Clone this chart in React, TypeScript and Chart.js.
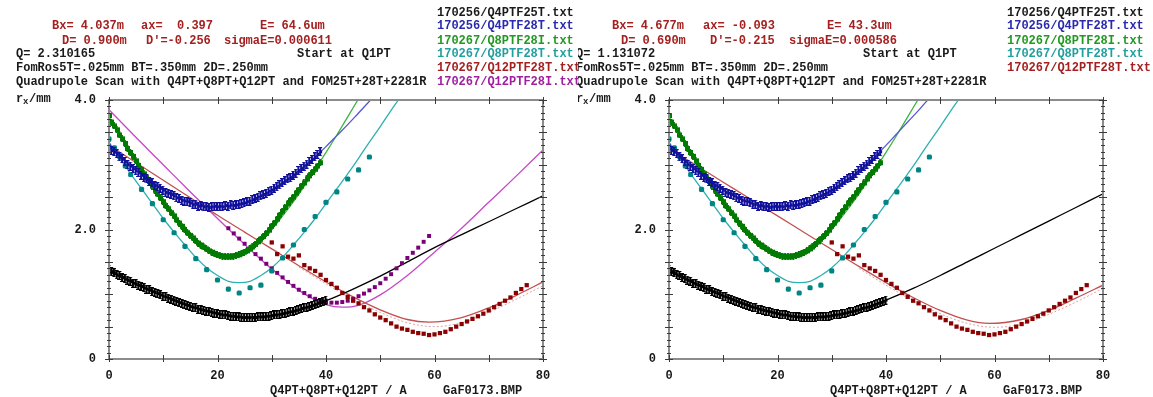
import React, { useEffect, useRef } from "react";
import { Chart, registerables } from "chart.js";

Chart.register(...registerables);

const FONT = "'Liberation Mono', 'DejaVu Sans Mono', monospace";

// ---------- axes ----------
const X_TICKS = [0, 10, 20, 30, 40, 50, 60, 70, 80];
const X_LABEL_STEP = 20;
const Y_LABEL_STEP = 2;

// ---------- scan setpoints (A) ----------
const X_HALF = [
  0, 0.5, 1, 1.5, 2, 2.5, 3, 3.5, 4, 4.5, 5, 5.5, 6, 6.5, 7, 7.5, 8, 8.5, 9, 9.5,
  10, 10.5, 11, 11.5, 12, 12.5, 13, 13.5, 14, 14.5, 15, 15.5, 16, 16.5, 17, 17.5, 18, 18.5, 19, 19.5,
  20, 20.5, 21, 21.5, 22, 22.5, 23, 23.5, 24, 24.5, 25, 25.5, 26, 26.5, 27, 27.5, 28, 28.5, 29, 29.5,
  30, 30.5, 31, 31.5, 32, 32.5, 33, 33.5, 34, 34.5, 35, 35.5, 36, 36.5, 37, 37.5, 38, 38.5, 39, 39.5, 40,
];

// 170256/Q4PTF25T.txt (black)
const BLACK_Y = [
  1.38, 1.35, 1.33, 1.30, 1.29, 1.26, 1.24, 1.22, 1.20, 1.17,
  1.16, 1.14, 1.12, 1.10, 1.08, 1.07, 1.04, 1.03, 1.01, 0.99,
  0.97, 0.96, 0.94, 0.92, 0.91, 0.89, 0.87, 0.86, 0.84, 0.83,
  0.81, 0.80, 0.79, 0.77, 0.76, 0.75, 0.74, 0.73, 0.72, 0.71,
  0.70, 0.69, 0.68, 0.68, 0.67, 0.66, 0.66, 0.65, 0.65, 0.64,
  0.64, 0.64, 0.64, 0.64, 0.64, 0.65, 0.65, 0.65, 0.66, 0.66,
  0.67, 0.68, 0.68, 0.69, 0.70, 0.71, 0.72, 0.73, 0.74, 0.75,
  0.76, 0.78, 0.79, 0.80, 0.81, 0.83, 0.84, 0.86, 0.87, 0.89,
  0.91,
];
// 170256/Q4PTF28T.txt (blue)
const BLUE_Y = [
  3.30, 3.22, 3.20, 3.17, 3.12, 3.09, 3.05, 3.00, 2.98, 2.94,
  2.91, 2.88, 2.84, 2.80, 2.78, 2.74, 2.72, 2.68, 2.66, 2.64,
  2.61, 2.57, 2.56, 2.54, 2.52, 2.49, 2.48, 2.45, 2.44, 2.43,
  2.41, 2.38, 2.39, 2.36, 2.37, 2.35, 2.36, 2.34, 2.35, 2.36,
  2.35, 2.36, 2.35, 2.37, 2.36, 2.38, 2.37, 2.38, 2.39, 2.40,
  2.41, 2.43, 2.44, 2.46, 2.48, 2.50, 2.52, 2.54, 2.56, 2.59,
  2.61, 2.64, 2.66, 2.69, 2.72, 2.75, 2.78, 2.80, 2.84, 2.87,
  2.91, 2.94, 2.98, 3.01, 3.05, 3.08, 3.12, 3.16, 3.20,
];
// 170267/Q8PTF28I.txt (green)
const GREEN_Y = [
  3.76, 3.66, 3.60, 3.54, 3.46, 3.40, 3.33, 3.25, 3.19, 3.13,
  3.06, 2.99, 2.93, 2.86, 2.80, 2.74, 2.67, 2.61, 2.55, 2.49,
  2.43, 2.37, 2.32, 2.26, 2.21, 2.15, 2.10, 2.05, 2.00, 1.95,
  1.91, 1.87, 1.83, 1.79, 1.76, 1.73, 1.70, 1.67, 1.65, 1.63,
  1.61, 1.60, 1.59, 1.58, 1.58, 1.58, 1.59, 1.60, 1.61, 1.63,
  1.65, 1.67, 1.70, 1.73, 1.77, 1.81, 1.85, 1.89, 1.94, 1.99,
  2.05, 2.10, 2.16, 2.22, 2.28, 2.34, 2.40, 2.45, 2.50, 2.56,
  2.61, 2.67, 2.72, 2.78, 2.83, 2.88, 2.93, 2.98, 3.03,
];
// 170267/Q8PTF28T.txt (cyan)
const CYAN_X = [0, 1, 2, 3, 4, 6, 8, 10, 12, 14, 16, 18, 20, 22, 24, 26, 28, 30, 32, 34, 36, 38, 40, 42, 44, 46, 48];
const CYAN_Y = [3.40, 3.26, 3.12, 2.98, 2.85, 2.62, 2.40, 2.15, 1.95, 1.74, 1.55, 1.38, 1.22, 1.08, 1.02, 1.10, 1.14, 1.36, 1.56, 1.76, 2.00, 2.20, 2.42, 2.58, 2.78, 2.92, 3.12];
// 170267/Q12PTF28T.txt (dark red)
const RED_X = [30, 31, 32, 33, 34, 35, 36, 37, 38, 39, 40, 41, 42, 43, 44, 45, 46, 47, 48, 49, 50, 51, 52, 53, 54, 55, 56, 57, 58, 59, 60, 61, 62, 63, 64, 65, 66, 67, 68, 69, 70, 71, 72, 73, 74, 75, 76, 77];
const RED_Y = [1.80, 1.62, 1.74, 1.58, 1.55, 1.60, 1.45, 1.40, 1.36, 1.30, 1.22, 1.16, 1.10, 1.02, 0.96, 0.90, 0.86, 0.80, 0.75, 0.69, 0.64, 0.60, 0.55, 0.50, 0.47, 0.45, 0.42, 0.40, 0.39, 0.37, 0.38, 0.40, 0.42, 0.46, 0.50, 0.54, 0.58, 0.62, 0.66, 0.70, 0.75, 0.80, 0.85, 0.90, 0.95, 1.02, 1.08, 1.14];
// 170267/Q12PTF28I.txt (purple)
const PURPLE_X = [22, 23, 24, 25, 26, 27, 28, 29, 30, 31, 32, 33, 34, 35, 36, 37, 38, 39, 40, 41, 42, 43, 44, 45, 46, 47, 48, 49, 50, 51, 52, 53, 54, 55, 56, 57, 58, 59];
const PURPLE_Y = [2.02, 1.94, 1.86, 1.78, 1.70, 1.62, 1.55, 1.47, 1.40, 1.33, 1.26, 1.19, 1.13, 1.07, 1.02, 0.97, 0.93, 0.90, 0.88, 0.87, 0.87, 0.88, 0.90, 0.93, 0.97, 1.01, 1.06, 1.11, 1.17, 1.24, 1.31, 1.40, 1.48, 1.56, 1.64, 1.72, 1.81, 1.90];

// ---------- fitted envelopes ----------
const FIT5_X = [0, 5, 10, 15, 20, 25, 30, 35, 40, 45, 50, 55, 60, 65, 70, 75, 80];
const FIT2_X = [0, 2, 4, 6, 8, 10, 12, 14, 16, 18, 20, 22, 24, 26, 28, 30, 32, 34, 36, 38, 40, 42, 44, 46, 48, 50, 52, 54, 56];

const L_BLACK_FIT = [1.35, 1.15, 0.97, 0.81, 0.70, 0.64, 0.67, 0.76, 0.90, 1.08, 1.28, 1.50, 1.72, 1.92, 2.12, 2.32, 2.52];
const L_BLUE_FIT = [3.28, 3.12, 2.98, 2.84, 2.72, 2.61, 2.52, 2.44, 2.39, 2.36, 2.35, 2.36, 2.39, 2.44, 2.52, 2.61, 2.72, 2.84, 2.98, 3.12, 3.28, 3.45, 3.62, 3.80, 3.98, 4.16];
const L_GREEN_FIT = [3.74, 3.46, 3.19, 2.93, 2.67, 2.43, 2.21, 2.00, 1.83, 1.70, 1.61, 1.58, 1.61, 1.70, 1.83, 2.00, 2.21, 2.43, 2.67, 2.93, 3.19, 3.46, 3.74, 4.02, 4.30];
const L_CYAN_FIT = [3.35, 3.10, 2.86, 2.63, 2.40, 2.17, 1.96, 1.76, 1.57, 1.41, 1.29, 1.20, 1.18, 1.20, 1.29, 1.41, 1.57, 1.76, 1.96, 2.17, 2.40, 2.63, 2.86, 3.10, 3.35, 3.59, 3.84, 4.08, 4.34];
const RED_FIT_X = [0, 5, 10, 15, 20, 25, 30, 35, 40, 45, 50, 55, 59, 65, 70, 75, 80];
const L_RED_FIT = [3.30, 3.03, 2.76, 2.49, 2.22, 1.96, 1.70, 1.44, 1.19, 0.96, 0.76, 0.61, 0.57, 0.64, 0.79, 0.98, 1.19];
const RED_FIT2_X = [35, 40, 45, 50, 55, 60, 65, 70, 75, 80];
const L_RED_FIT2 = [1.42, 1.16, 0.92, 0.72, 0.56, 0.50, 0.56, 0.72, 0.92, 1.13];
const PURPLE_FIT_X = [0, 5, 10, 15, 20, 25, 30, 35, 40, 43, 46, 50, 55, 60, 65, 70, 75, 80];
const L_PURPLE_FIT = [3.85, 3.42, 3.00, 2.58, 2.17, 1.77, 1.39, 1.06, 0.84, 0.80, 0.83, 0.99, 1.29, 1.65, 2.02, 2.42, 2.82, 3.23];

const R_BLACK_FIT = [1.35, 1.15, 0.97, 0.81, 0.70, 0.64, 0.67, 0.76, 0.91, 1.09, 1.29, 1.50, 1.71, 1.92, 2.13, 2.34, 2.55];
const R_BLUE_FIT = [3.28, 3.12, 2.98, 2.84, 2.72, 2.61, 2.52, 2.44, 2.39, 2.36, 2.35, 2.36, 2.39, 2.44, 2.52, 2.61, 2.72, 2.84, 2.98, 3.13, 3.30, 3.48, 3.66, 3.84, 4.03, 4.22];
const R_GREEN_FIT = [3.74, 3.46, 3.19, 2.93, 2.67, 2.43, 2.21, 2.00, 1.83, 1.70, 1.61, 1.58, 1.61, 1.70, 1.83, 2.00, 2.21, 2.43, 2.67, 2.93, 3.19, 3.46, 3.74, 4.02, 4.30];
const R_CYAN_FIT = [3.35, 3.10, 2.86, 2.63, 2.40, 2.17, 1.96, 1.76, 1.57, 1.41, 1.29, 1.20, 1.18, 1.20, 1.29, 1.41, 1.57, 1.76, 1.96, 2.17, 2.40, 2.63, 2.86, 3.10, 3.35, 3.59, 3.84, 4.08, 4.34];
const R_RED_FIT = [3.25, 2.99, 2.73, 2.47, 2.21, 1.95, 1.69, 1.43, 1.18, 0.95, 0.75, 0.60, 0.55, 0.61, 0.75, 0.94, 1.14];
const R_RED_FIT2 = [1.40, 1.14, 0.90, 0.70, 0.55, 0.49, 0.54, 0.69, 0.88, 1.09];

// ---------- colours ----------
const C = {
  black: { pt: "#000000", ln: "#000000", txt: "#1a1a1a" },
  blue: { pt: "#10109a", ln: "#5555d0", txt: "#2a2ab0" },
  green: { pt: "#007a00", ln: "#3cb43c", txt: "#229922" },
  cyan: { pt: "#008585", ln: "#2fb0b0", txt: "#229f9f" },
  red: { pt: "#8b0000", ln: "#c25050", ln2: "#e4a0a0", txt: "#a52020" },
  purple: { pt: "#7a007a", ln: "#c648c6", txt: "#a020a0" },
};
const PARAM_RED = "#a52020";

// ---------- texts ----------
const L_PARAMS = [
  { t: "Bx= 4.037m", x: 52, y: 26 },
  { t: "ax=  0.397", x: 141, y: 26 },
  { t: "E= 64.6um", x: 260, y: 26 },
  { t: "D= 0.900m", x: 62, y: 41 },
  { t: "D'=-0.256", x: 146, y: 41 },
  { t: "sigmaE=0.000611", x: 224, y: 41 },
];
const R_PARAMS = [
  { t: "Bx= 4.677m", x: 52, y: 26 },
  { t: "ax= -0.093", x: 143, y: 26 },
  { t: "E= 43.3um", x: 267, y: 26 },
  { t: "D= 0.690m", x: 61, y: 41 },
  { t: "D'=-0.215", x: 150, y: 41 },
  { t: "sigmaE=0.000586", x: 229, y: 41 },
];
const L_Q = "Q= 2.310165";
const R_Q = "Q= 1.131072";
const START = "Start at Q1PT";
const FOM = "FomRos5T=.025mm BT=.350mm 2D=.250mm";
const SCAN = "Quadrupole Scan with Q4PT+Q8PT+Q12PT and FOM25T+28T+2281R";
const X_TITLE = "Q4PT+Q8PT+Q12PT / A";
const FILE_TAG = "GaF0173.BMP";

const L_FILES = [
  { t: "170256/Q4PTF25T.txt", c: C.black.txt },
  { t: "170256/Q4PTF28T.txt", c: C.blue.txt },
  { t: "170267/Q8PTF28I.txt", c: C.green.txt },
  { t: "170267/Q8PTF28T.txt", c: C.cyan.txt },
  { t: "170267/Q12PTF28T.txt", c: C.red.txt },
  { t: "170267/Q12PTF28I.txt", c: C.purple.txt },
];
const R_FILES = L_FILES.slice(0, 5);
const FILE_Y = [13, 26, 41, 54, 68, 82];

const H = 397;
const PLOT_LEFT = 109;
const PLOT_RIGHT = 543;
const PLOT_TOP = 100;
const PLOT_BOTTOM = 359;

// marker glyphs: small square with a short vertical error bar
function barMarker(color: string, w: number, h: number, core: number) {
  const c = document.createElement("canvas");
  c.width = w;
  c.height = h;
  const g = c.getContext("2d")!;
  g.fillStyle = color;
  const cx = Math.floor(w / 2);
  g.fillRect(cx - 1, 0, 2, h);
  g.fillRect(cx - 2, 0, 4, 1);
  g.fillRect(cx - 2, h - 1, 4, 1);
  const o = Math.floor((h - core) / 2);
  g.fillRect(Math.floor((w - core) / 2), o, core, core);
  return c;
}
function hollowMarker(color: string, s: number) {
  const c = document.createElement("canvas");
  c.width = s;
  c.height = s + 2;
  const g = c.getContext("2d")!;
  g.fillStyle = color;
  g.fillRect(0, 1, s, s);
  g.fillStyle = "rgba(255,255,255,0.55)";
  g.fillRect(2, 3, s - 4, s - 4);
  g.fillStyle = color;
  g.fillRect(Math.floor(s / 2) - 1, 0, 2, s + 2);
  return c;
}

function pts(xs: number[], ys: number[]) {
  return ys.map((y, i) => ({ x: xs[i], y }));
}

function pointSet(label: string, xs: number[], ys: number[], color: string, style: any = "rect", r = 2.8) {
  return {
    label,
    data: pts(xs, ys),
    showLine: false,
    pointStyle: style,
    pointRadius: r,
    pointBorderWidth: 0,
    pointBackgroundColor: color,
    pointBorderColor: color,
    borderColor: color,
    backgroundColor: color,
  };
}

function lineSet(label: string, xs: number[], ys: number[], color: string, w = 1.3, dash: number[] = []) {
  return {
    label,
    data: pts(xs, ys),
    showLine: true,
    pointRadius: 0,
    borderColor: color,
    borderWidth: w,
    borderDash: dash,
    cubicInterpolationMode: "monotone",
    fill: false,
  };
}

type PanelCfg = {
  params: { t: string; x: number; y: number }[];
  q: string;
  startX: number;
  files: { t: string; c: string }[];
  filesX: number;
  datasets: () => any[];
};

function decorPlugin(cfg: PanelCfg) {
  return {
    id: "decor",
    beforeDraw(chart: any) {
      const ctx = chart.ctx;
      ctx.save();
      ctx.fillStyle = "#ffffff";
      ctx.fillRect(0, 0, chart.width, chart.height);
      ctx.restore();
    },
    afterDraw(chart: any) {
      const ctx = chart.ctx as CanvasRenderingContext2D;
      const a = chart.chartArea;
      const xs = chart.scales.x;
      const ys = chart.scales.y;
      ctx.save();
      // frame
      ctx.strokeStyle = "#8c8c8c";
      ctx.lineWidth = 2;
      ctx.strokeRect(a.left, a.top, a.right - a.left, a.bottom - a.top);
      // x ticks top & bottom
      ctx.strokeStyle = "#3a3a3a";
      ctx.lineWidth = 1;
      ctx.beginPath();
      for (const v of X_TICKS) {
        const px = Math.round(xs.getPixelForValue(v)) + 0.5;
        ctx.moveTo(px, a.top - 3);
        ctx.lineTo(px, a.top + 4);
        ctx.moveTo(px, a.bottom - 4);
        ctx.lineTo(px, a.bottom + 3);
      }
      // y ticks left & right (minor 0.1, major 0.5)
      for (let k = 0; k <= 40; k++) {
        const v = k / 10;
        const py = Math.round(ys.getPixelForValue(v)) + 0.5;
        const len = k % 5 === 0 ? 4 : 2;
        ctx.moveTo(a.left - len, py);
        ctx.lineTo(a.left + len, py);
        ctx.moveTo(a.right - len, py);
        ctx.lineTo(a.right + len, py);
      }
      ctx.stroke();

      // texts
      ctx.textBaseline = "middle";
      ctx.textAlign = "left";
      ctx.font = `bold 12px ${FONT}`;
      ctx.fillStyle = PARAM_RED;
      for (const p of cfg.params) ctx.fillText(p.t, p.x, p.y);
      ctx.fillStyle = "#1a1a1a";
      ctx.fillText(cfg.q, 16, 54);
      ctx.fillText(START, cfg.startX, 54);
      ctx.fillText(FOM, 16, 68);
      ctx.fillText(SCAN, 16, 82);
      // r_x/mm
      ctx.fillText("r", 16, 99);
      ctx.font = `bold 9px ${FONT}`;
      ctx.fillText("x", 23, 102);
      ctx.font = `bold 12px ${FONT}`;
      ctx.fillText("/mm", 29, 99);
      // file list
      cfg.files.forEach((f, i) => {
        ctx.fillStyle = f.c;
        ctx.fillText(f.t, cfg.filesX, FILE_Y[i]);
      });
      // x title
      ctx.fillStyle = "#1a1a1a";
      ctx.fillText(X_TITLE, 270, 391);
      ctx.fillText(FILE_TAG, 443, 391);
      ctx.restore();
    },
  };
}

function Panel({ left, width, z, cfg }: { left: number; width: number; z: number; cfg: PanelCfg }) {
  const ref = useRef<HTMLCanvasElement | null>(null);
  useEffect(() => {
    if (!ref.current) return;
    const tickFont = { family: FONT, size: 12, weight: "bold" as const };
    const chart = new Chart(ref.current, {
      type: "scatter",
      data: { datasets: cfg.datasets() },
      options: {
        animation: false,
        responsive: false,
        events: [],
        layout: { padding: { top: PLOT_TOP, right: width - PLOT_RIGHT, left: 0, bottom: 0 } },
        plugins: { legend: { display: false }, tooltip: { enabled: false } },
        scales: {
          x: {
            type: "linear",
            min: 0,
            max: 80,
            grid: { display: false, drawTicks: false },
            border: { display: false },
            ticks: {
              stepSize: X_LABEL_STEP,
              padding: 10,
              color: "#1a1a1a",
              font: tickFont,
              maxRotation: 0,
              callback: (v: any) => String(v),
            },
            afterFit: (s: any) => {
              s.height = H - PLOT_BOTTOM;
            },
          },
          y: {
            type: "linear",
            min: 0,
            max: 4,
            grid: { display: false, drawTicks: false },
            border: { display: false },
            ticks: {
              stepSize: Y_LABEL_STEP,
              padding: 13,
              color: "#1a1a1a",
              font: tickFont,
              callback: (v: any) => (Number(v) === 0 ? "0" : Number(v).toFixed(1)),
            },
            afterFit: (s: any) => {
              s.width = PLOT_LEFT;
            },
          },
        },
      } as any,
      plugins: [decorPlugin(cfg)],
    });
    return () => chart.destroy();
  }, []);
  return (
    <canvas
      ref={ref}
      width={width}
      height={H}
      style={{ position: "fixed", left, top: 0, width, height: H, zIndex: z, display: "block" }}
    />
  );
}

function commonPoints() {
  return [
    pointSet("170256/Q4PTF25T.txt", X_HALF, BLACK_Y, C.black.pt, barMarker(C.black.pt, 5, 9, 3)),
    pointSet("170256/Q4PTF28T.txt", X_HALF, BLUE_Y, C.blue.pt, barMarker(C.blue.pt, 5, 9, 3)),
    pointSet("170267/Q8PTF28I.txt", X_HALF, GREEN_Y, C.green.pt, hollowMarker(C.green.pt, 5)),
    pointSet("170267/Q8PTF28T.txt", CYAN_X, CYAN_Y, C.cyan.pt, "rectRounded", 3),
    pointSet("170267/Q12PTF28T.txt", RED_X, RED_Y, C.red.pt, "rect", 3),
  ];
}

const leftCfg: PanelCfg = {
  params: L_PARAMS,
  q: L_Q,
  startX: 297,
  files: L_FILES,
  filesX: 437,
  datasets: () => [
    ...commonPoints(),
    pointSet("170267/Q12PTF28I.txt", PURPLE_X, PURPLE_Y, C.purple.pt, "rect", 2.8),
    lineSet("fit black", FIT5_X, L_BLACK_FIT, C.black.ln),
    lineSet("fit blue", FIT2_X, L_BLUE_FIT, C.blue.ln),
    lineSet("fit green", FIT2_X, L_GREEN_FIT, C.green.ln),
    lineSet("fit cyan", FIT2_X, L_CYAN_FIT, C.cyan.ln),
    lineSet("fit red", RED_FIT_X, L_RED_FIT, C.red.ln),
    lineSet("fit red (I)", RED_FIT2_X, L_RED_FIT2, C.red.ln2, 1, [2, 2]),
    lineSet("fit purple", PURPLE_FIT_X, L_PURPLE_FIT, C.purple.ln),
  ],
};

const rightCfg: PanelCfg = {
  params: R_PARAMS,
  q: R_Q,
  startX: 303,
  files: R_FILES,
  filesX: 447,
  datasets: () => [
    ...commonPoints(),
    lineSet("fit black", FIT5_X, R_BLACK_FIT, C.black.ln),
    lineSet("fit blue", FIT2_X, R_BLUE_FIT, C.blue.ln),
    lineSet("fit green", FIT2_X, R_GREEN_FIT, C.green.ln),
    lineSet("fit cyan", FIT2_X, R_CYAN_FIT, C.cyan.ln),
    lineSet("fit red", RED_FIT_X, R_RED_FIT, C.red.ln),
    lineSet("fit red (I)", RED_FIT2_X, R_RED_FIT2, C.red.ln2, 1, [2, 2]),
  ],
};

export default function App() {
  return (
    <div style={{ position: "fixed", left: 0, top: 0, width: 1153, height: H, background: "#fff" }}>
      <Panel left={560} width={593} z={1} cfg={rightCfg} />
      <Panel left={0} width={578} z={2} cfg={leftCfg} />
    </div>
  );
}
